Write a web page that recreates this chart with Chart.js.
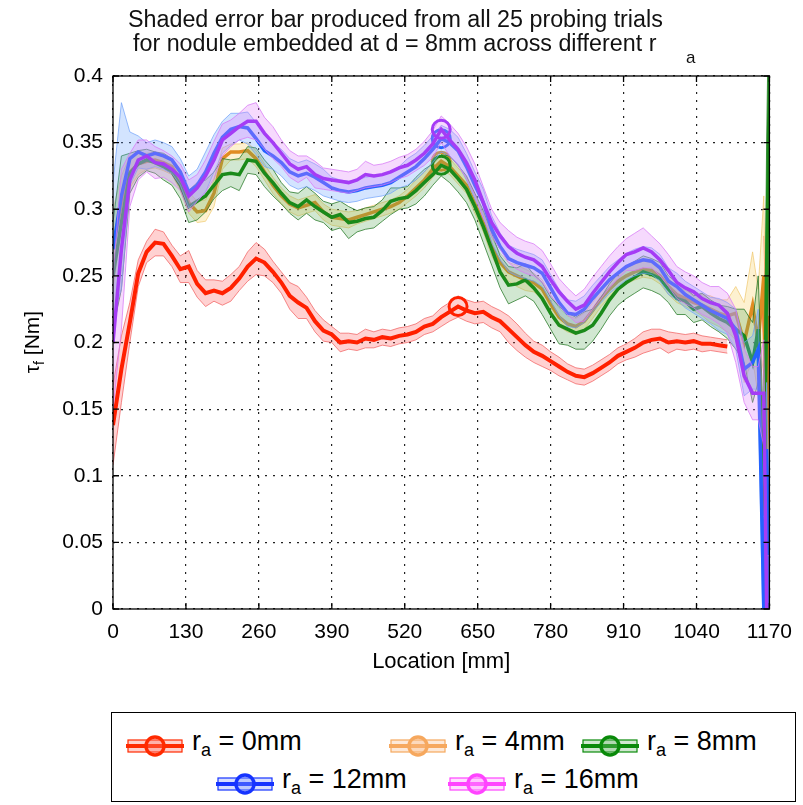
<!DOCTYPE html>
<html>
<head>
<meta charset="utf-8">
<title>Shaded error bar</title>
<script src="https://cdn.jsdelivr.net/npm/chart.js@4/dist/chart.umd.min.js"></script>
<style>
  body { margin: 0; background: #fff; font-family: 'Liberation Sans', Arial, sans-serif; }
  #wrap { position: relative; width: 803px; height: 805px; }
  #plot { position: absolute; left: 0; top: 0; }
  .ttl { position: absolute; font-size: 23.3px; line-height: 26px; color: #111; white-space: nowrap; }
  #legend { position: absolute; left: 111px; top: 712px; width: 683px; height: 88px; border: 1.5px solid #000; }
  .item { position: absolute; display: flex; align-items: center; font-size: 27px; line-height: 30px; color: #000; white-space: nowrap; }
  .item svg { margin-right: 8px; }
  .item sub { font-size: 18px; vertical-align: -6px; }
</style>
</head>
<body>
<div id="wrap">
  <canvas id="plot" width="803" height="700"></canvas>
  <div class="ttl" style="left:128px; top:6px;">Shaded error bar produced from all 25 probing trials</div>
  <div class="ttl" style="left:133px; top:30px;">for nodule embedded at d = 8mm across different r</div>
  <div class="ttl" style="left:686px; top:45px; font-size:17px;">a</div>
  <div id="legend"></div>
</div>
<script>
// sample positions along the probe path (mm)
const locations = [0,15,30,45,60,75,90,105,120,135,150,165,180,195,210,225,240,255,270,285,
  300,315,330,345,360,375,390,405,420,435,450,465,480,495,510,525,540,555,570,585,
  600,615,630,645,660,675,690,705,720,735,750,765,780,795,810,825,840,855,870,885,
  900,915,930,945,960,975,990,1005,1020,1035,1050,1065,1080,1095,1110,1125,1140,1150,1160,1165,1170];

const xTicks = [0,130,260,390,520,650,780,910,1040,1170];

// mean torque per r_a (Nm)
const ra0 = [0.138,0.18,0.215,0.252,0.268,0.275,0.274,0.265,0.255,0.257,
  0.244,0.237,0.239,0.237,0.241,0.248,0.257,0.263,0.26,0.253,
  0.245,0.235,0.23,0.226,0.216,0.209,0.206,0.2,0.201,0.2,
  0.203,0.202,0.204,0.203,0.205,0.206,0.208,0.212,0.214,0.219,
  0.223,0.227,0.224,0.222,0.223,0.219,0.216,0.21,0.204,0.198,
  0.193,0.19,0.186,0.182,0.178,0.175,0.174,0.177,0.181,0.185,
  0.19,0.193,0.196,0.2,0.202,0.203,0.2,0.201,0.2,0.201,
  0.199,0.199,0.198,0.197,null,null,null,null,0.23,0.15,0.21];
const ra4 = [0.27,0.305,0.328,0.334,0.336,0.337,0.335,0.332,0.322,0.305,
  0.298,0.299,0.312,0.338,0.343,0.343,0.344,0.338,0.328,0.318,
  0.31,0.304,0.301,0.303,0.305,0.298,0.294,0.293,0.292,0.294,
  0.296,0.298,0.3,0.302,0.305,0.31,0.316,0.322,0.33,0.336,
  0.332,0.325,0.318,0.304,0.29,0.272,0.26,0.253,0.25,0.247,
  0.245,0.24,0.229,0.219,0.214,0.212,0.216,0.224,0.233,0.24,
  0.246,0.25,0.253,0.255,0.254,0.25,0.242,0.236,0.233,0.23,
  0.228,0.225,0.222,0.22,0.222,0.2,0.228,0.2,0.25,0.12,0.22];
const ra8 = [0.25,0.29,0.327,0.334,0.337,0.335,0.332,0.328,0.318,0.302,
  0.306,0.31,0.318,0.326,0.327,0.326,0.337,0.336,0.327,0.32,
  0.312,0.305,0.302,0.307,0.302,0.298,0.294,0.296,0.29,0.291,
  0.293,0.294,0.299,0.306,0.308,0.309,0.314,0.32,0.326,0.333,
  0.33,0.323,0.315,0.302,0.287,0.27,0.253,0.243,0.244,0.247,
  0.241,0.233,0.222,0.213,0.21,0.207,0.209,0.213,0.222,0.232,
  0.24,0.245,0.249,0.253,0.251,0.248,0.24,0.233,0.231,0.225,
  0.227,0.222,0.218,0.215,0.21,0.205,0.185,0.21,0.07,0.25,0.4];
const ra12 = [0.27,0.31,0.338,0.343,0.34,0.342,0.34,0.337,0.328,0.313,
  0.318,0.328,0.342,0.354,0.36,0.362,0.361,0.353,0.344,0.34,
  0.335,0.328,0.325,0.327,0.324,0.32,0.316,0.314,0.313,0.314,
  0.316,0.317,0.318,0.32,0.324,0.328,0.332,0.338,0.345,0.353,
  0.35,0.344,0.332,0.318,0.305,0.285,0.272,0.263,0.26,0.258,
  0.256,0.252,0.241,0.23,0.222,0.221,0.225,0.233,0.24,0.247,
  0.252,0.257,0.26,0.262,0.261,0.256,0.246,0.242,0.236,0.232,
  0.228,0.224,0.221,0.218,0.21,0.18,0.185,0.195,0,0.12,0];
const ra16 = [0.2,0.27,0.322,0.337,0.34,0.335,0.334,0.33,0.324,0.31,
  0.316,0.325,0.337,0.352,0.357,0.362,0.366,0.366,0.357,0.35,
  0.342,0.334,0.33,0.332,0.326,0.323,0.322,0.321,0.32,0.322,
  0.326,0.325,0.326,0.328,0.331,0.333,0.337,0.342,0.349,0.36,
  0.352,0.345,0.335,0.322,0.305,0.29,0.28,0.272,0.267,0.264,
  0.262,0.257,0.247,0.238,0.231,0.225,0.228,0.237,0.245,0.253,
  0.26,0.266,0.268,0.271,0.268,0.262,0.254,0.245,0.241,0.238,
  0.233,0.23,0.228,0.222,0.205,0.175,0.162,0.162,0.162,0,0];

// half-width of the shaded band over the 25 trials
const ra0Spread = [0.03,0.025,0.015,0.01,0.008,0.01,0.009,0.008,0.01,0.012,
  0.01,0.01,0.008,0.009,0.01,0.009,0.011,0.012,0.01,0.008,
  0.008,0.01,0.012,0.008,0.008,0.008,0.006,0.007,0.006,0.006,
  0.007,0.006,0.006,0.006,0.006,0.006,0.006,0.006,0.006,0.007,
  0.007,0.008,0.008,0.008,0.008,0.008,0.008,0.01,0.01,0.009,
  0.008,0.008,0.007,0.007,0.006,0.006,0.006,0.006,0.006,0.006,
  0.006,0.006,0.007,0.008,0.008,0.007,0.008,0.006,0.006,0.006,
  0.006,0.005,0.005,0.005,0,0,0,0,0.05,0.05,0.05];
const ra4Spread = [0.03,0.02,0.012,0.008,0.006,0.006,0.006,0.006,0.008,0.008,
  0.008,0.008,0.01,0.008,0.006,0.006,0.006,0.006,0.006,0.006,
  0.006,0.006,0.006,0.006,0.006,0.006,0.006,0.006,0.006,0.005,
  0.005,0.005,0.005,0.005,0.005,0.005,0.006,0.006,0.006,0.006,
  0.006,0.006,0.006,0.007,0.007,0.007,0.007,0.007,0.008,0.008,
  0.007,0.007,0.007,0.007,0.006,0.006,0.006,0.006,0.006,0.006,
  0.006,0.006,0.006,0.006,0.006,0.006,0.006,0.006,0.006,0.006,
  0.008,0.01,0.01,0.012,0.02,0.03,0.04,0.04,0.06,0.06,0.06];
const ra8Spread = [0.04,0.05,0.015,0.01,0.008,0.008,0.01,0.01,0.01,0.012,
  0.014,0.012,0.01,0.012,0.01,0.012,0.01,0.01,0.01,0.01,
  0.008,0.008,0.01,0.01,0.01,0.008,0.01,0.01,0.012,0.008,
  0.008,0.008,0.008,0.01,0.008,0.008,0.01,0.01,0.008,0.008,
  0.01,0.01,0.01,0.01,0.012,0.012,0.012,0.014,0.012,0.012,
  0.01,0.012,0.012,0.014,0.012,0.012,0.014,0.012,0.012,0.012,
  0.012,0.012,0.012,0.012,0.012,0.012,0.01,0.012,0.01,0.01,
  0.01,0.01,0.01,0.012,0.015,0.02,0.03,0.04,0.06,0.1,0.1];
const ra12Spread = [0.05,0.07,0.02,0.012,0.01,0.01,0.01,0.01,0.01,0.012,
  0.012,0.015,0.014,0.012,0.012,0.01,0.012,0.012,0.012,0.01,
  0.01,0.01,0.01,0.01,0.01,0.01,0.008,0.008,0.008,0.008,
  0.008,0.008,0.008,0.008,0.008,0.01,0.01,0.01,0.01,0.01,
  0.01,0.01,0.01,0.01,0.01,0.01,0.01,0.01,0.01,0.01,
  0.01,0.01,0.01,0.01,0.01,0.01,0.01,0.01,0.01,0.01,
  0.01,0.01,0.01,0.01,0.01,0.01,0.01,0.01,0.01,0.01,
  0.01,0.01,0.012,0.012,0.015,0.02,0.02,0.03,0.05,0.05,0.05];
const ra16Spread = [0.05,0.06,0.02,0.015,0.012,0.012,0.01,0.01,0.01,0.012,
  0.01,0.012,0.014,0.012,0.01,0.01,0.012,0.014,0.012,0.012,
  0.01,0.01,0.01,0.008,0.01,0.008,0.008,0.008,0.008,0.008,
  0.01,0.008,0.008,0.008,0.008,0.008,0.008,0.009,0.01,0.01,
  0.012,0.012,0.012,0.012,0.012,0.01,0.01,0.012,0.012,0.012,
  0.012,0.012,0.012,0.01,0.01,0.01,0.012,0.012,0.012,0.012,
  0.012,0.012,0.014,0.015,0.012,0.012,0.012,0.012,0.012,0.012,
  0.012,0.012,0.014,0.015,0.02,0.02,0.02,0.02,0.04,0.04,0.04];

// sample index where each curve carries its circle marker
const markerIndex = [41, 39, 39, 39, 39];

const seriesNames = ['0mm', '4mm', '8mm', '12mm', '16mm'];
const seriesMeans = [ra0, ra4, ra8, ra12, ra16];
const seriesSpreads = [ra0Spread, ra4Spread, ra8Spread, ra12Spread, ra16Spread];

const styles = [
  { line: '#ff2000', band: 'rgba(255,90,90,0.28)', edge: 'rgba(240,90,90,0.7)', key: '#ff2a00', keyFill: 'rgba(255,120,110,0.35)', width: 4 },
  { line: '#e08c22', band: 'rgba(250,215,120,0.35)', edge: 'rgba(240,200,110,0.7)', key: '#f6a85e', keyFill: 'rgba(250,190,140,0.35)', width: 3.5 },
  { line: '#1a8a1a', band: 'rgba(90,170,90,0.28)', edge: 'rgba(40,120,40,0.8)', key: '#0a8a0a', keyFill: 'rgba(120,190,120,0.35)', width: 3.5 },
  { line: '#2463ff', band: 'rgba(110,165,255,0.3)', edge: 'rgba(110,160,250,0.7)', key: '#1634ff', keyFill: 'rgba(140,160,255,0.35)', width: 3.5 },
  { line: '#a53cf5', band: 'rgba(225,130,250,0.3)', edge: 'rgba(215,120,245,0.75)', key: '#ff44ff', keyFill: 'rgba(255,160,255,0.35)', width: 3.5 }
];

function points(vals, spread, sign) {
  return locations.map((x, i) => ({
    x,
    y: vals[i] == null ? null : vals[i] + sign * (spread ? spread[i] : 0)
  }));
}

// upper edge, lower edge (band filled between them), then the mean line
const datasets = [];
seriesMeans.forEach((vals, s) => {
  const st = styles[s];
  const layer = 10 - 2 * s;
  datasets.push({
    data: points(vals, seriesSpreads[s], 1), borderColor: st.edge, borderWidth: 1,
    backgroundColor: st.band, fill: '+1', pointRadius: 0, order: layer + 1
  });
  datasets.push({
    data: points(vals, seriesSpreads[s], -1), borderColor: st.edge, borderWidth: 1,
    fill: false, pointRadius: 0, order: layer + 1
  });
  datasets.push({
    label: 'r_a = ' + seriesNames[s],
    data: points(vals, null, 0), borderColor: st.line, borderWidth: st.width,
    fill: false, order: layer,
    pointRadius: locations.map((_, i) => i === markerIndex[s] ? 9 : 0),
    pointBorderWidth: 3, pointBorderColor: st.line, pointBackgroundColor: 'rgba(255,255,255,0)'
  });
});

// plot box with inward tick marks
const frame = {
  id: 'frame',
  afterDatasetsDraw(chart) {
    const { ctx, chartArea: a, scales } = chart;
    ctx.save();
    ctx.strokeStyle = '#000';
    ctx.lineWidth = 1.3;
    ctx.strokeRect(a.left, a.top, a.right - a.left, a.bottom - a.top);
    ctx.beginPath();
    scales.x.ticks.forEach(t => {
      const px = scales.x.getPixelForValue(t.value);
      ctx.moveTo(px, a.bottom); ctx.lineTo(px, a.bottom - 6);
      ctx.moveTo(px, a.top); ctx.lineTo(px, a.top + 6);
    });
    scales.y.ticks.forEach(t => {
      const py = scales.y.getPixelForValue(t.value);
      ctx.moveTo(a.left, py); ctx.lineTo(a.left + 6, py);
      ctx.moveTo(a.right, py); ctx.lineTo(a.right - 6, py);
    });
    ctx.stroke();
    ctx.restore();
  }
};

// y axis title with subscript: tau_f [Nm]
const yTitle = {
  id: 'yTitle',
  afterDraw(chart) {
    const ctx = chart.ctx;
    const big = '21px "Liberation Sans", Arial, sans-serif';
    const small = '14px "Liberation Sans", Arial, sans-serif';
    ctx.save();
    ctx.translate(33, 342);
    ctx.rotate(-Math.PI / 2);
    ctx.fillStyle = '#000';
    ctx.textBaseline = 'middle';
    ctx.font = big;
    const w1 = ctx.measureText('τ').width;
    const w3 = ctx.measureText(' [Nm]').width;
    ctx.font = small;
    const w2 = ctx.measureText('f').width;
    let x = -(w1 + w2 + w3) / 2;
    ctx.font = big;
    ctx.fillText('τ', x, 0);
    x += w1;
    ctx.font = small;
    ctx.fillText('f', x, 7);
    x += w2;
    ctx.font = big;
    ctx.fillText(' [Nm]', x, 0);
    ctx.restore();
  }
};

Chart.defaults.font.family = '"Liberation Sans", Arial, sans-serif';
Chart.defaults.color = '#000';

new Chart(document.getElementById('plot'), {
  type: 'line',
  data: { datasets },
  options: {
    responsive: false,
    animation: false,
    spanGaps: false,
    layout: { padding: { top: 76, right: 32, left: 0, bottom: 0 } },
    plugins: { legend: { display: false }, tooltip: { enabled: false } },
    elements: { line: { tension: 0 } },
    scales: {
      x: {
        type: 'linear', min: 0, max: 1170,
        afterBuildTicks: s => { s.ticks = xTicks.map(v => ({ value: v })); },
        afterFit: s => { s.height = 91; },
        ticks: { font: { size: 21 }, padding: 11, maxRotation: 0, autoSkip: false, callback: v => String(v) },
        grid: { color: '#222', lineWidth: 1.2, drawTicks: false },
        border: { display: false, dash: [2, 6] },
        title: { display: true, text: 'Location [mm]', font: { size: 22 }, padding: { bottom: 25 } }
      },
      y: {
        min: 0, max: 0.4,
        afterFit: s => { s.width = 113; },
        ticks: { stepSize: 0.05, font: { size: 21 }, padding: 10, callback: v => String(+v.toFixed(2)) },
        grid: { color: '#222', lineWidth: 1.2, drawTicks: false },
        border: { display: false, dash: [2, 6] }
      }
    }
  },
  plugins: [frame, yTitle]
});

// legend entries: [left, top] of each key
const legendSpots = [[14, 13], [277, 13], [469, 13], [104, 51], [336, 51]];
const legend = document.getElementById('legend');
seriesNames.forEach((name, s) => {
  const st = styles[s];
  const el = document.createElement('div');
  el.className = 'item';
  el.style.left = legendSpots[s][0] + 'px';
  el.style.top = legendSpots[s][1] + 'px';
  el.innerHTML =
    '<svg width="58" height="28" viewBox="0 0 58 28">' +
    '<rect x="2" y="8" width="54" height="12" fill="' + st.keyFill + '" stroke="' + st.key + '" stroke-width="1.2"/>' +
    '<line x1="0" y1="14" x2="58" y2="14" stroke="' + st.key + '" stroke-width="4"/>' +
    '<circle cx="29" cy="14" r="9" fill="' + st.keyFill + '" stroke="' + st.key + '" stroke-width="3.5"/>' +
    '</svg><span>r<sub>a</sub> = ' + name + '</span>';
  legend.appendChild(el);
});
</script>
</body>
</html>
